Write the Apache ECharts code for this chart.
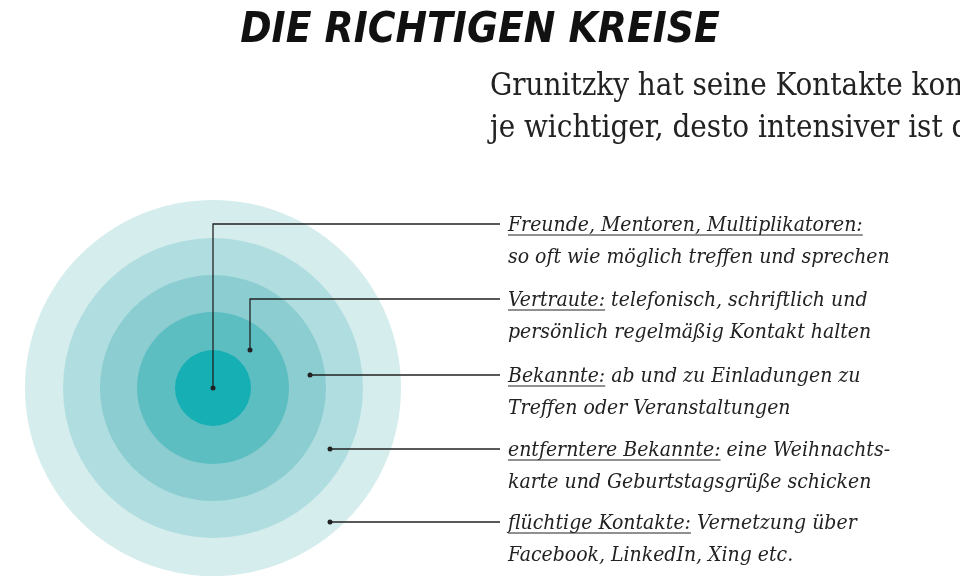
<!DOCTYPE html>
<html><head><meta charset="utf-8">
<script src="https://cdn.jsdelivr.net/npm/echarts@6/dist/echarts.min.js"></script>
<style>html,body{margin:0;background:#fff}#main{width:960px;height:577px}</style>
</head><body><div id="main"></div>
<script>
// ring radii (outer to inner, px) and colours
var ringRadius = [188, 150, 113, 76, 38];
var ringColors = ['#d6eded', '#b0dddf', '#8bcdd0', '#5dbec2', '#15afb4'];
var labelHeads = ['Freunde, Mentoren, Multiplikatoren:', 'Vertraute:', 'Bekannte:', 'entferntere Bekannte:', 'flüchtige Kontakte:'];
var labelTails = ['', ' telefonisch, schriftlich und', ' ab und zu Einladungen zu', ' eine Weihnachts-', ' Vernetzung über'];
var labelSecond = ['so oft wie möglich treffen und sprechen', 'persönlich regelmäßig Kontakt halten', 'Treffen oder Veranstaltungen', 'karte und Geburtstagsgrüße schicken', 'Facebook, LinkedIn, Xing etc.'];
var labelY = [224, 299, 375, 449, 522];
var anchors = [[213, 388], [250, 350], [310, 375], [330, 450], [330, 520]];

var labelFont = 'italic 21px "DejaVu Serif Condensed", "DejaVu Serif", serif';
var ctx = document.createElement('canvas').getContext('2d');
ctx.font = labelFont;

var cx = 213, cy = 388;
var series = ringRadius.map(function (r, i) {
    return {
        type: 'pie', radius: [0, r], center: [cx, cy], silent: true, z: i,
        label: {show: false}, labelLine: {show: false},
        itemStyle: {color: ringColors[i]},
        data: [{value: 1, name: 'r' + i}]
    };
});

var graphic = [
    {type: 'text', left: 'center', top: 10, style: {text: 'DIE RICHTIGEN KREISE', font: 'italic 900 42px "Liberation Sans Narrow", "DejaVu Sans Condensed", sans-serif', fill: '#111'}},
    {type: 'text', x: 490, top: 66, style: {text: 'Grunitzky hat seine Kontakte konzentrisch organisiert:\nje wichtiger, desto intensiver ist der Austausch', font: '31px "DejaVu Serif Condensed", "DejaVu Serif", serif', fill: '#222', lineHeight: 42, align: 'center'}}
];
labelY.forEach(function (y, i) {
    var a = anchors[i];
    var pts = (i < 2) ? [[a[0], a[1]], [a[0], y], [500, y]] : [[a[0], y], [500, y]];
    graphic.push({type: 'polyline', z: 10, shape: {points: pts}, style: {stroke: '#222', lineWidth: 1.3, fill: null}});
    graphic.push({type: 'circle', z: 10, shape: {cx: pts[0][0], cy: pts[0][1], r: 2.5}, style: {fill: '#222'}});
    graphic.push({type: 'text', z: 10, x: 508, y: y - 14, style: {text: labelHeads[i] + labelTails[i] + '\n' + labelSecond[i], font: labelFont, fill: '#222', lineHeight: 32}});
    var w = ctx.measureText(labelHeads[i]).width;
    graphic.push({type: 'line', z: 10, shape: {x1: 508, y1: y + 11, x2: 508 + w, y2: y + 11}, style: {stroke: '#222', lineWidth: 1}});
});

var chart = echarts.init(document.getElementById('main'));
chart.setOption({backgroundColor: '#fff', animation: false, series: series, graphic: graphic});
</script></body></html>
